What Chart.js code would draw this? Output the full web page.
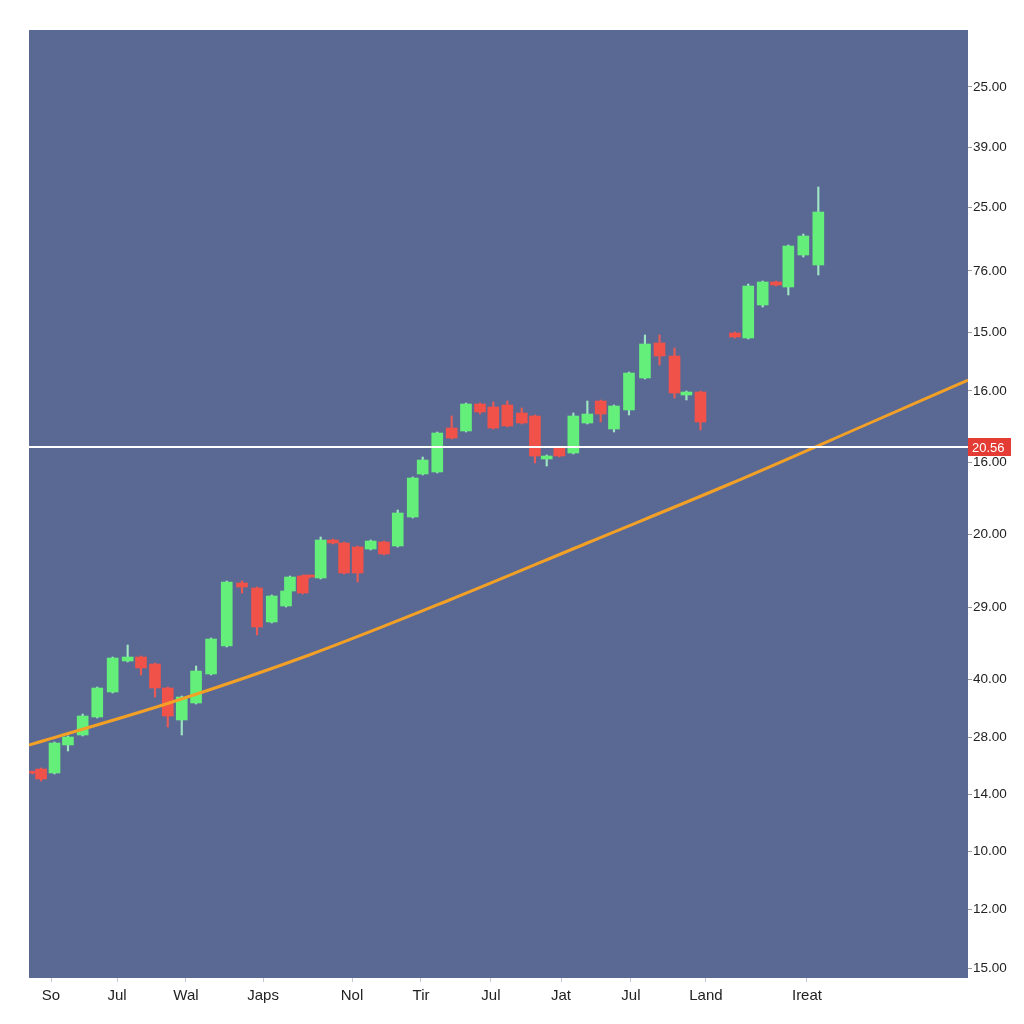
<!DOCTYPE html>
<html>
<head>
<meta charset="utf-8">
<script src="https://cdn.jsdelivr.net/npm/chart.js@4"></script>
<style>
  html, body { margin: 0; padding: 0; background: #ffffff; }
  #wrap { width: 1024px; height: 1024px; }
</style>
</head>
<body>
<div id="wrap"><canvas id="c" width="1024" height="1024"></canvas></div>
<script>
// ---- Data ----
const candleX = [0.25,0.86,1.82,2.78,3.83,4.87,5.97,7.04,7.99,8.99,9.90,10.90,11.92,12.99,14.11,15.20,16.27,17.32,18.34,18.62,19.53,19.98,20.81,21.69,22.48,23.45,24.38,25.33,26.31,27.38,28.09,29.13,30.16,31.18,32.18,33.13,34.13,35.16,36.10,36.94,37.84,38.84,39.84,40.79,41.74,42.81,43.95,44.99,46.06,46.91,47.91,50.37,51.32,52.35,53.30,54.18,55.25,56.32];
const openV  = [20.65,20.9,20.5,23.3,24.3,26.1,28.6,31.7,32.1,31.4,29.0,25.8,27.5,30.4,33.2,39.5,39.0,35.6,37.2,38.7,40.2,40.3,40.0,43.8,43.5,43.1,42.9,43.6,43.2,46.1,50.4,50.6,55.0,54.7,57.4,57.1,57.3,56.5,56.2,51.9,53.0,52.5,55.5,57.7,54.9,56.8,60.0,63.5,62.2,58.3,58.6,64.5,64.0,67.3,69.6,69.1,72.3,71.3];
const closeV = [20.5,19.9,23.5,24.1,26.2,29.0,32.0,32.1,31.0,29.0,26.2,28.1,30.7,33.9,39.6,39.1,35.1,38.2,38.7,40.1,38.5,40.1,43.8,43.5,40.5,40.5,43.7,42.4,46.5,50.0,51.8,54.5,54.0,57.4,56.6,55.0,55.2,55.5,52.2,52.2,52.2,56.2,56.4,56.4,57.2,60.5,63.4,62.2,58.5,58.6,55.6,64.1,69.2,69.6,69.3,73.2,74.2,76.6];
const highV  = [20.7,21.0,23.6,24.2,26.4,29.1,32.1,33.3,32.2,31.5,29.1,28.2,31.2,34.0,39.7,39.7,39.1,38.3,38.8,40.2,40.3,40.3,44.1,43.9,43.6,43.2,43.8,43.7,46.8,50.1,52.1,54.6,56.2,57.5,57.5,57.6,57.7,57.0,56.3,52.3,53.1,56.5,57.7,57.8,57.3,60.6,64.3,64.3,63.0,58.7,58.7,64.6,69.4,69.7,69.7,73.3,74.4,79.1];
const lowV   = [20.4,19.7,20.4,22.7,24.2,26.0,28.5,31.6,30.3,28.1,25.1,24.3,27.4,30.3,33.1,38.5,34.3,35.5,37.1,38.6,38.4,40.0,39.9,43.4,40.4,39.6,42.8,42.3,43.1,46.0,50.3,50.5,53.9,54.6,56.4,54.9,55.1,55.4,51.5,51.2,52.1,52.4,55.4,55.6,54.6,56.3,59.9,61.3,58.0,57.8,54.8,64.0,63.9,67.1,69.2,68.3,72.1,70.3];

const trendX = [0, 10, 20, 30, 40, 50, 60, 67];
const trendY = [23.3, 27.5, 32.3, 37.8, 43.6, 49.4, 55.5, 59.8];

const xTickValues = [1.57, 6.28, 11.20, 16.70, 23.05, 27.97, 32.96, 37.96, 42.95, 48.30, 55.51];
const xTickLabels = ["So", "Jul", "Wal", "Japs", "Nol", "Tir", "Jul", "Jat", "Jul", "Land", "Ireat"];

const yTickValues = [89.1, 83.1, 77.1, 70.7, 64.6, 58.7, 51.6, 44.4, 37.1, 29.9, 24.1, 18.4, 12.7, 6.9, 1.0];
const yTickLabels = ["25.00","39.00","25.00","76.00","15.00","16.00","16.00","20.00","29.00","40.00","28.00","14.00","10.00","12.00","15.00"];

const priceLineValue = 53.1;
const priceLabel = "20.56";

// ---- Styles ----
const UP = '#63EF7A', DOWN = '#F0524A';
const UP_WICK = '#9FE6C2', DOWN_WICK = '#E95A55';
const PLOT_BG = '#5A6894';
const FONT = '"Liberation Sans", Arial, sans-serif';

const bodies = candleX.map((x, i) => ({ x: x, y: [openV[i], closeV[i]] }));
const wicks = candleX.map((x, i) => ({ x: x, y: [lowV[i], highV[i]] }));
const isUp = candleX.map((x, i) => closeV[i] >= openV[i]);
const trend = trendX.map((x, i) => ({ x: x, y: trendY[i] }));

const bgPlugin = {
  id: 'plotBg',
  beforeDraw(chart) {
    const { ctx, chartArea: a } = chart;
    ctx.save();
    ctx.fillStyle = PLOT_BG;
    ctx.fillRect(a.left, a.top, a.right - a.left, a.bottom - a.top);
    ctx.restore();
  }
};

const priceLinePlugin = {
  id: 'priceLine',
  afterDatasetsDraw(chart) {
    const { ctx, chartArea: a } = chart;
    const y = chart.scales.y.getPixelForValue(priceLineValue);
    ctx.save();
    ctx.strokeStyle = '#ffffff';
    ctx.lineWidth = 2;
    ctx.beginPath();
    ctx.moveTo(a.left, y);
    ctx.lineTo(a.right, y);
    ctx.stroke();
    ctx.fillStyle = '#E53B35';
    ctx.fillRect(a.right, y - 9, 43, 18);
    ctx.fillStyle = '#ffffff';
    ctx.font = '13px ' + FONT;
    ctx.textAlign = 'left';
    ctx.textBaseline = 'middle';
    ctx.fillText(priceLabel, a.right + 4, y + 1);
    ctx.restore();
  }
};

new Chart(document.getElementById('c'), {
  type: 'bar',
  data: {
    datasets: [
      {
        type: 'line',
        data: trend,
        borderColor: '#F2A126',
        borderWidth: 3,
        pointRadius: 0,
        tension: 0.4,
        cubicInterpolationMode: 'monotone',
        order: 0
      },
      {
        data: bodies,
        backgroundColor: isUp.map(u => u ? UP : DOWN),
        barThickness: 11,
        grouped: false,
        borderWidth: 0,
        order: 1
      },
      {
        data: wicks,
        backgroundColor: isUp.map(u => u ? UP_WICK : DOWN_WICK),
        barThickness: 1.5,
        grouped: false,
        borderWidth: 0,
        order: 2
      }
    ]
  },
  options: {
    responsive: false,
    animation: false,
    layout: { padding: { left: 29, top: 30, right: 0, bottom: 0 } },
    plugins: { legend: { display: false }, tooltip: { enabled: false } },
    scales: {
      x: {
        type: 'linear',
        min: 0,
        max: 67,
        offset: false,
        afterBuildTicks(scale) { scale.ticks = xTickValues.map(v => ({ value: v })); },
        afterFit(scale) { scale.height = 46; },
        grid: { offset: false, drawOnChartArea: false, drawTicks: true, tickLength: 4, color: '#c4c8d2' },
        border: { display: false },
        ticks: {
          autoSkip: false,
          maxRotation: 0,
          padding: 5,
          color: '#222222',
          font: { family: FONT, size: 15 },
          callback: (v, i) => xTickLabels[i]
        }
      },
      y: {
        position: 'right',
        min: 0,
        max: 94.8,
        afterBuildTicks(scale) { scale.ticks = yTickValues.map(v => ({ value: v })); },
        afterFit(scale) { scale.width = 56; },
        grid: { drawOnChartArea: false, drawTicks: true, tickLength: 4, color: '#999999' },
        border: { display: false },
        ticks: {
          autoSkip: false,
          padding: 1,
          color: '#222222',
          font: { family: FONT, size: 13.5 },
          callback: (v, i) => yTickLabels[i]
        }
      }
    }
  },
  plugins: [bgPlugin, priceLinePlugin]
});
</script>
</body>
</html>
